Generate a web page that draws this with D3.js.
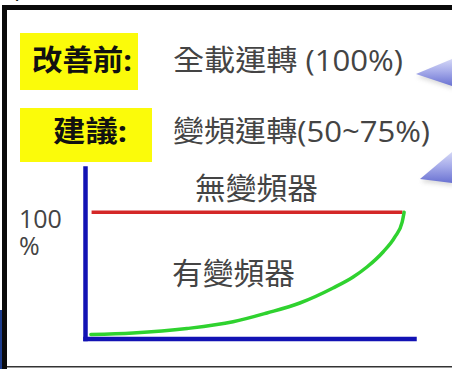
<!DOCTYPE html>
<html><head><meta charset="utf-8">
<script src="https://cdn.jsdelivr.net/npm/d3@7"></script>
<style>html,body{margin:0;padding:0;background:#fff;overflow:hidden}</style>
</head><body><svg id="c" width="452" height="369"></svg>
<script>
// Power draw (% of rated) against load (%), with and without a VFD
const loadPct = [1.8, 14.6, 31, 45, 55.3, 65.3, 75.4, 81.5, 85.7, 90.6, 94.2, 96.4, 97];
const vfdPower = [3.2, 4.4, 7.9, 13.2, 20.2, 28.1, 40, 48.7, 56.6, 68.5, 80.4, 92.2, 100];
const fixedLoad = [2, 96.5];
const fixedPower = [100, 100];
const tagLabels = ["改善前:", "建議:"];
const tagTexts = ["全載運轉 (100%)", "變頻運轉(50~75%)"];
const seriesNames = ["無變頻器", "有變頻器"];
const yTickLabel = ["100", "%"];

const svg = d3.select("#c");
const FONT = "'Open Sans','Noto Sans CJK TC',sans-serif";

// frame
svg.append("rect").attr("x", 0).attr("y", 310).attr("width", 2.5).attr("height", 59).attr("fill", "#1d3c8c");
svg.append("rect").attr("x", 2).attr("y", 5).attr("width", 452).attr("height", 5).attr("fill", "#0a0a0a");
svg.append("rect").attr("x", 2).attr("y", 5).attr("width", 5).attr("height", 364).attr("fill", "#0a0a0a");
svg.append("rect").attr("x", 7).attr("y", 366).attr("width", 445).attr("height", 1.5).attr("fill", "#333");
svg.append("text").attr("x", 12).attr("y", -3).attr("font-family", FONT).attr("font-size", 24).attr("fill", "#111").text("(");
svg.append("text").attr("x", 161).attr("y", -4).attr("font-family", FONT).attr("font-size", 24).attr("fill", "#111").text(")");

// callout pointers
const defs = svg.append("defs");
const g1 = defs.append("linearGradient").attr("id", "ptr").attr("x1", 0).attr("y1", 0).attr("x2", 0).attr("y2", 1);
g1.append("stop").attr("offset", "0%").attr("stop-color", "#d4d7f6");
g1.append("stop").attr("offset", "45%").attr("stop-color", "#a7acea");
g1.append("stop").attr("offset", "100%").attr("stop-color", "#6a72d2");
const blur = defs.append("filter").attr("id", "sh").attr("x", "-20%").attr("y", "-50%").attr("width", "140%").attr("height", "200%");
blur.append("feGaussianBlur").attr("stdDeviation", 2);
const pointers = [[[416, 74], [452, 59], [452, 86]], [[420, 179], [452, 152], [452, 183]]];
pointers.forEach(p => {
  svg.append("polygon").attr("points", p.map(d => [d[0] + 1, d[1] + 3].join(",")).join(" "))
    .attr("fill", "#999").attr("opacity", 0.35).attr("filter", "url(#sh)");
  svg.append("polygon").attr("points", p.map(d => d.join(",")).join(" ")).attr("fill", "url(#ptr)");
});

// tag boxes
const tagBoxes = [[20, 33, 118, 57], [20, 108, 132, 54]];
tagBoxes.forEach(b => svg.append("rect").attr("x", b[0]).attr("y", b[1]).attr("width", b[2]).attr("height", b[3]).attr("fill", "#fbfb0a"));
const tagX = [32, 53], tagW = [100, 74], textW = [230, 257], rowY = [71, 142];
tagLabels.forEach((t, i) => svg.append("text").attr("x", tagX[i]).attr("y", rowY[i])
  .attr("font-family", FONT).attr("font-weight", 700).attr("font-size", 29).attr("fill", "#111")
  .attr("textLength", tagW[i]).attr("lengthAdjust", "spacingAndGlyphs").text(t));
tagTexts.forEach((t, i) => svg.append("text").attr("x", 173).attr("y", rowY[i])
  .attr("font-family", FONT).attr("font-size", 29).attr("fill", "#444")
  .attr("textLength", textW[i]).attr("lengthAdjust", "spacingAndGlyphs").text(t));

// chart
const x = d3.scaleLinear([0, 100], [85, 414]);
const y = d3.scaleLinear([0, 135], [338.5, 168]);

const line = d3.line().x(d => x(d[0])).y(d => y(d[1]));
svg.append("path").datum(fixedLoad.map((v, i) => [v, fixedPower[i]]))
  .attr("d", line).attr("fill", "none").attr("stroke", "#d42828").attr("stroke-width", 3.5);
svg.append("path").datum(loadPct.map((v, i) => [v, vfdPower[i]]))
  .attr("d", line.curve(d3.curveMonotoneX)).attr("fill", "none").attr("stroke", "#2fd22f")
  .attr("stroke-width", 3.5).attr("stroke-linecap", "round");

const ax = svg.append("g").attr("transform", `translate(0,${y(0)})`).call(d3.axisBottom(x).tickValues([]).tickSizeOuter(0));
const ay = svg.append("g").attr("transform", `translate(${x(0)},0)`).call(d3.axisLeft(y).tickValues([]).tickSizeOuter(0));
[ax, ay].forEach(a => a.select(".domain").attr("stroke", "#1212b4").attr("stroke-width", 4.5).attr("stroke-linecap", "square"));

// y label at the 100% level, wrapped onto two lines
const yl = svg.append("text").attr("font-family", FONT).attr("font-size", 25).attr("fill", "#444");
yTickLabel.forEach((t, i) => yl.append("tspan").attr("x", 19).attr("y", y(100) + 16 + i * 27).text(t));

// series names
svg.append("text").attr("x", 195).attr("y", y(100) - 13).attr("font-family", FONT).attr("font-size", 30)
  .attr("textLength", 123).attr("lengthAdjust", "spacingAndGlyphs").attr("fill", "#444").text(seriesNames[0]);
svg.append("text").attr("x", 172).attr("y", y(100) + 72).attr("font-family", FONT).attr("font-size", 30)
  .attr("textLength", 123).attr("lengthAdjust", "spacingAndGlyphs").attr("fill", "#444").text(seriesNames[1]);
</script></body></html>
